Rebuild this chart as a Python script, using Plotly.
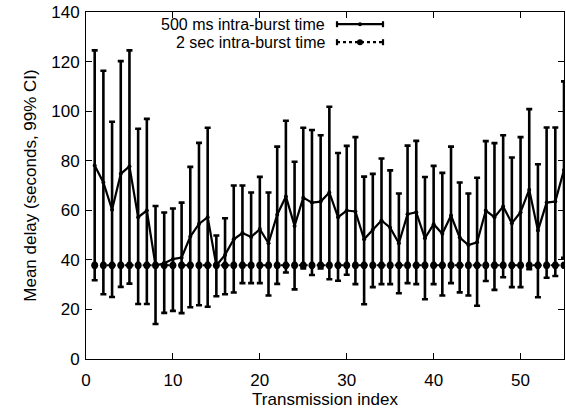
import plotly.graph_objects as go

# Transmission index
idx = list(range(1, 56))

# 500 ms intra-burst time: mean delay and 99% CI bounds (seconds)
mean_500 = [78.1, 71.2, 60.2, 74.7, 77.7, 57.2, 59.9, 37.7, 38.6, 40.3,
            40.9, 49.4, 54.5, 57.2, 37.7, 42.0, 48.3, 50.8, 49.2, 52.4,
            46.7, 58.2, 65.6, 53.7, 65.1, 63.1, 63.5, 67.2, 57.2, 59.9,
            59.5, 48.3, 52.1, 55.9, 53.0, 46.7, 58.4, 59.2, 48.7, 54.4,
            50.5, 57.9, 49.0, 46.0, 47.1, 59.9, 57.2, 61.5, 54.8, 59.2,
            68.3, 51.8, 63.1, 63.5, 76.3]
upper_500 = [124.5, 116.3, 95.7, 120.2, 124.5, 92.9, 96.9, 61.7, 59.1, 60.7,
             63.1, 77.5, 87.2, 93.3, 49.8, 56.8, 70.0, 70.0, 67.2, 73.5,
             67.2, 85.7, 96.1, 79.6, 93.3, 92.4, 90.3, 101.8, 83.1, 86.0,
             89.5, 73.6, 74.7, 80.9, 76.1, 66.8, 86.1, 88.0, 73.4, 77.9,
             75.1, 85.7, 71.2, 66.8, 73.1, 87.9, 87.1, 90.3, 81.3, 89.5,
             100.8, 78.6, 93.4, 93.4, 112.0]
lower_500 = [31.8, 26.1, 25.0, 29.1, 30.4, 22.2, 22.2, 14.1, 18.6, 19.4,
             18.5, 20.9, 21.7, 21.1, 25.3, 26.1, 26.8, 30.6, 30.6, 30.6,
             25.6, 30.3, 34.9, 28.1, 36.5, 33.9, 36.5, 32.2, 31.6, 34.0,
             30.2, 22.1, 29.0, 30.2, 30.2, 26.5, 30.6, 30.2, 24.1, 30.2,
             25.6, 30.6, 26.9, 25.6, 21.5, 31.5, 27.9, 33.0, 29.0, 29.0,
             36.2, 24.9, 32.8, 33.5, 40.8]

# 2 sec intra-burst time: mean delay and half-width of the CI
mean_2s = [37.8] * 55
ci_2s = [1.0] * 55

x_ticks = [0, 10, 20, 30, 40, 50]
y_ticks = [0, 20, 40, 60, 80, 100, 120, 140]

FONT = "Liberation Sans, Arial, Helvetica, sans-serif"
FS = 17
KEY_FS = 16

fig = go.Figure()

fig.add_trace(go.Scatter(
    x=idx, y=mean_500, mode="lines+markers",
    name="500 ms intra-burst time",
    line=dict(color="black", width=2.2),
    marker=dict(color="black", size=4, symbol="circle"),
    error_y=dict(type="data", symmetric=False,
                 array=[u - m for u, m in zip(upper_500, mean_500)],
                 arrayminus=[m - l for m, l in zip(mean_500, lower_500)],
                 color="black", thickness=2.6, width=3),
    showlegend=False,
))

fig.add_trace(go.Scatter(
    x=idx, y=mean_2s, mode="lines+markers",
    name="2 sec intra-burst time",
    line=dict(color="black", width=2, dash="dot"),
    marker=dict(color="black", size=7, symbol="circle"),
    error_y=dict(type="data", array=ci_2s, color="black",
                 thickness=2, width=2),
    showlegend=False,
))

# Gnuplot-style key: right-aligned labels with the line sample to their right
px_w, px_h = 478.0, 347.0
def px_x(p):
    return (p - 86) / px_w
def px_y(p):
    return (359.3 - p) / px_h

key_rows = [
    ("500 ms intra-burst time", 24.5, "solid", 2.2, 4),
    ("2 sec intra-burst time", 42.5, "dot", 2.2, 6),
]
shapes = []
annotations = []
for label, row_y, dash, lw, msize in key_rows:
    yy = px_y(row_y)
    x0, x1 = px_x(337), px_x(383)
    annotations.append(dict(
        x=px_x(326), y=yy, xref="paper", yref="paper", text=label,
        showarrow=False, xanchor="right", yanchor="middle", borderpad=0,
        font=dict(family=FONT, size=KEY_FS, color="black")))
    shapes.append(dict(type="line", xref="paper", yref="paper",
                       x0=x0, x1=x1, y0=yy, y1=yy,
                       line=dict(color="black", width=lw, dash=dash)))
    for xc in (x0, x1):
        shapes.append(dict(type="line", xref="paper", yref="paper",
                           x0=xc, x1=xc, y0=yy - 3 / px_h, y1=yy + 3 / px_h,
                           line=dict(color="black", width=2.2)))
    xm = (x0 + x1) / 2
    shapes.append(dict(type="circle", xref="paper", yref="paper",
                       x0=xm - msize / 2 / px_w, x1=xm + msize / 2 / px_w,
                       y0=yy - msize / 2 / px_h, y1=yy + msize / 2 / px_h,
                       fillcolor="black", line=dict(color="black", width=0)))

axis_common = dict(
    showgrid=False, zeroline=False, showline=True, linecolor="black",
    linewidth=1, mirror="allticks", ticks="inside", ticklen=6,
    tickcolor="black", tickwidth=1,
    tickfont=dict(family=FONT, size=FS, color="black"),
)

fig.update_layout(
    width=566, height=413,
    margin=dict(l=86, r=2, t=12, b=54),
    paper_bgcolor="white", plot_bgcolor="white",
    font=dict(family=FONT, size=FS, color="black"),
    xaxis=dict(range=[0, 55], tickvals=x_ticks, ticklabelstandoff=6,
               title=dict(text="Transmission index",
                          font=dict(family=FONT, size=FS), standoff=2),
               **axis_common),
    yaxis=dict(range=[0, 140], tickvals=y_ticks, ticklabelstandoff=2,
               title=dict(text="Mean delay (seconds, 99% CI)",
                          font=dict(family=FONT, size=FS), standoff=10),
               **axis_common),
    shapes=shapes,
    annotations=annotations,
)

fig.write_html("out.html")
